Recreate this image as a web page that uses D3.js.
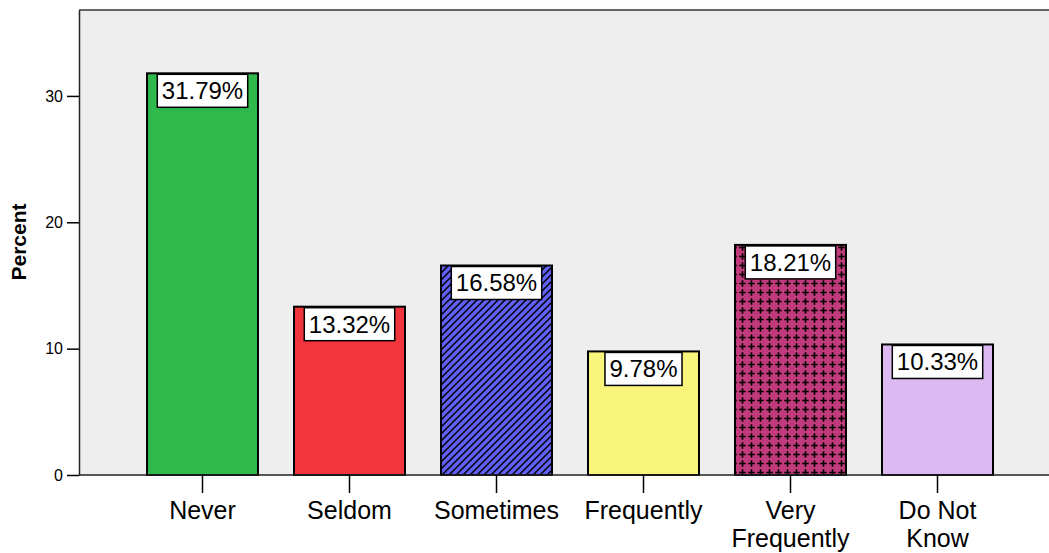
<!DOCTYPE html>
<html>
<head>
<meta charset="utf-8">
<script src="https://cdn.jsdelivr.net/npm/d3@7"></script>
<style>
  html, body { margin: 0; padding: 0; background: #ffffff; }
  svg { display: block; }
  text { font-family: "Liberation Sans", Arial, sans-serif; fill: #000; }
</style>
</head>
<body>
<svg id="chart" width="1049" height="553"></svg>
<script>
// Frequency of responses, in percent
const categories = ["Never", "Seldom", "Sometimes", "Frequently", "Very Frequently", "Do Not Know"];
const categoryLines = [["Never"], ["Seldom"], ["Sometimes"], ["Frequently"], ["Very", "Frequently"], ["Do Not", "Know"]];
const percents = [31.79, 13.32, 16.58, 9.78, 18.21, 10.33];
const fills = ["#2fb84b", "#f0353c", "#6060f8", "#f9f57a", "#c13a7c", "#ddb9f1"];
const patterns = [null, null, "hatch", null, "cross", null];
const yTicks = [0, 10, 20, 30];

const W = 1049, H = 553;
const plot = { left: 79, top: 10, right: 1049, bottom: 475 };

const svg = d3.select("#chart");

// fill patterns
const defs = svg.append("defs");
const hatch = defs.append("pattern")
  .attr("id", "hatch").attr("patternUnits", "userSpaceOnUse")
  .attr("width", 7).attr("height", 7);
hatch.append("rect").attr("width", 7).attr("height", 7).attr("fill", fills[2]);
hatch.append("path").attr("d", "M-1,8 L8,-1 M-4,4 L4,-4 M3,11 L11,3")
  .attr("stroke", "#000").attr("stroke-width", 1.5);

const cross = defs.append("pattern")
  .attr("id", "cross").attr("patternUnits", "userSpaceOnUse")
  .attr("width", 9).attr("height", 9);
cross.append("rect").attr("width", 9).attr("height", 9).attr("fill", fills[4]);
cross.append("path").attr("d", "M4.5,1.2 L4.5,7.8 M1.2,4.5 L7.8,4.5")
  .attr("stroke", "#000").attr("stroke-width", 1.6);

// plot background
svg.append("rect")
  .attr("x", plot.left).attr("y", plot.top)
  .attr("width", plot.right - plot.left).attr("height", plot.bottom - plot.top)
  .attr("fill", "#eeeeee");
svg.append("line")
  .attr("x1", plot.left).attr("x2", plot.right)
  .attr("y1", plot.top).attr("y2", plot.top)
  .attr("stroke", "#333").attr("stroke-width", 1.5);

const y = d3.scaleLinear().domain([0, 36.8]).range([plot.bottom, plot.top]);
const x = d3.scaleBand().domain(categories).range([129, 1011])
  .paddingInner(0.245).paddingOuter(0.1225);

// y axis
const yAxis = svg.append("g")
  .attr("transform", `translate(${plot.left},0)`)
  .call(d3.axisLeft(y).tickValues(yTicks).tickSize(12).tickPadding(4).tickSizeOuter(0));
yAxis.attr("font-size", null).attr("font-family", null);
yAxis.select(".domain").attr("stroke", "#222").attr("stroke-width", 1.5);
yAxis.selectAll(".tick line").attr("stroke", "#000").attr("stroke-width", 1.5);
yAxis.selectAll(".tick text")
  .style("font-family", "'Liberation Sans', Arial, sans-serif")
  .style("font-size", "16px").attr("fill", "#000");

svg.append("text")
  .attr("transform", `translate(26,242) rotate(-90)`)
  .attr("text-anchor", "middle")
  .style("font-size", "21px").style("font-weight", "bold")
  .text("Percent");

// bars
const bars = svg.append("g");
categories.forEach((c, i) => {
  bars.append("rect")
    .attr("x", x(c)).attr("y", y(percents[i]))
    .attr("width", x.bandwidth()).attr("height", y(0) - y(percents[i]))
    .attr("fill", patterns[i] ? `url(#${patterns[i]})` : fills[i])
    .attr("stroke", "#000").attr("stroke-width", 2);
});

// x axis
const xAxis = svg.append("g")
  .attr("transform", `translate(0,${plot.bottom})`);
xAxis.append("line")
  .attr("x1", plot.left).attr("x2", plot.right)
  .attr("stroke", "#222").attr("stroke-width", 1.5);
categories.forEach((c, i) => {
  const cx = x(c) + x.bandwidth() / 2;
  xAxis.append("line").attr("x1", cx).attr("x2", cx).attr("y1", 0).attr("y2", 18)
    .attr("stroke", "#000").attr("stroke-width", 1.5);
  const t = xAxis.append("text").attr("text-anchor", "middle")
    .style("font-size", "25px");
  categoryLines[i].forEach((line, k) => {
    t.append("tspan").attr("x", cx).attr("y", 44 + k * 28).text(line);
  });
});

// value labels
const labels = svg.append("g");
categories.forEach((c, i) => {
  const cx = x(c) + x.bandwidth() / 2;
  const top = y(percents[i]);
  const g = labels.append("g");
  const txt = g.append("text")
    .attr("x", cx).attr("y", top + 26)
    .attr("text-anchor", "middle")
    .style("font-size", "24px")
    .text(percents[i].toFixed(2) + "%");
  const w = txt.node().getComputedTextLength() + 9;
  g.insert("rect", "text")
    .attr("x", cx - w / 2).attr("y", top + 1)
    .attr("width", w).attr("height", 33)
    .attr("fill", "#fff").attr("stroke", "#000").attr("stroke-width", 1.5);
});
</script>
</body>
</html>
